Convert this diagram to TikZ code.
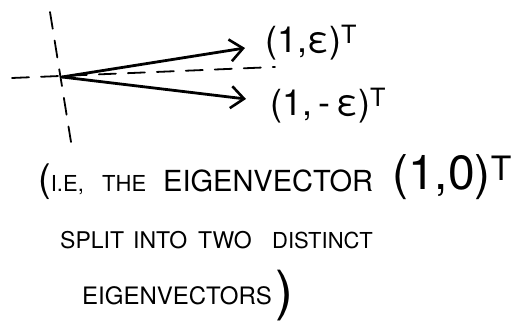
\documentclass[tikz,border=0pt]{standalone}
\usepackage{fontspec}
\setmainfont{TeX Gyre Heros}
\usetikzlibrary{arrows.meta}
\begin{document}
\begin{tikzpicture}[x=1pt,y=-1pt,
    eje/.style={line width=1.8pt, line cap=round, dash pattern=on 17pt off 12pt},
    vector/.style={line width=2.8pt, line cap=round, -{Straight Barb[length=13pt,width=22pt,line width=2.6pt]}},
    etiq/.style={font=\fontsize{36}{36}\selectfont, inner sep=0pt, anchor=base west},
    texto/.style={font=\fontsize{#1}{#1}\selectfont, inner sep=0pt, anchor=base west},
    texto/.default=26]
    \useasboundingbox (0,0) rectangle (523,328);
    % Ejes
    \coordinate (o) at (62,77);
    \coordinate (yarr) at (50,12);
    \coordinate (yab) at (71,142);
    \coordinate (xizq) at (12,78);
    \coordinate (xder) at (275,67);
    \draw[eje] (yarr) -- (yab);
    \draw[eje] (xizq) -- (xder);
    % Vectores
    \coordinate (a) at (245,48);
    \coordinate (b) at (246,99);
    \draw[vector] (o) -- (a);
    \draw[vector] (o) -- (b);
    \node[etiq] (la) at (265,53) {(1,ε)\textsuperscript{T}};
    \node[etiq] (lb) at (270,116) {(1,\,-\,ε)\textsuperscript{T}};
    % Nota
    \node[texto=22] (ie) at (38,192) {{\fontsize{38}{38}\selectfont(}I.E,};
    \foreach \pal/\x/\y/\tam [count=\i] in {THE/102/192/22, EIGENVECTOR/163/192/29,
        SPLIT/60/249/23, INTO/133/249/23, TWO/198/249/23, DISTINCT/272/249/22,
        EIGENVECTORS/82/305/24}
        \node[texto=\tam] (p\i) at (\x,\y) {\pal};
    \node[font=\fontsize{48}{48}\selectfont, inner sep=0pt, anchor=base west] (v0) at (392,190) {(1,0)\textsuperscript{T}};
    \node[font=\fontsize{54}{54}\selectfont, inner sep=0pt] (cierre) at (284,296) {)};
\end{tikzpicture}
\end{document}
